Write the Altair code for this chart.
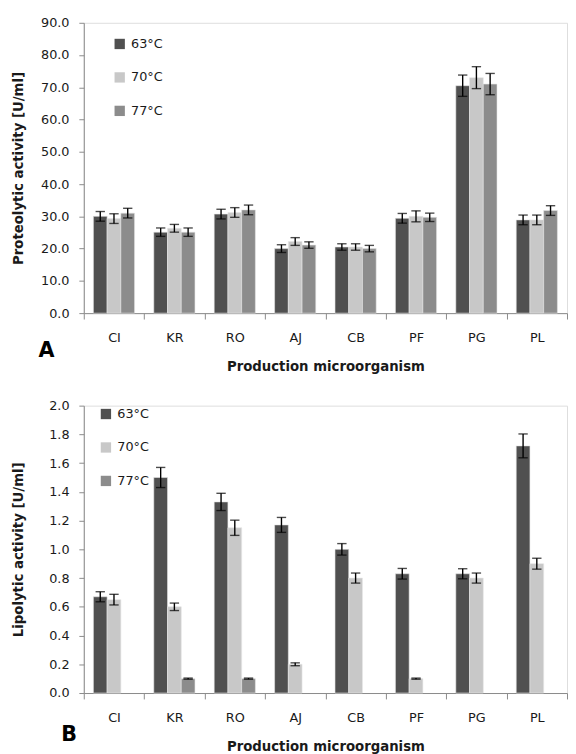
import altair as alt
import pandas as pd

categories = ["CI", "KR", "RO", "AJ", "CB", "PF", "PG", "PL"]
series = ["63°C", "70°C", "77°C"]
colors = ["#505050", "#c8c8c8", "#8c8c8c"]

# Panel A: proteolytic activity [U/ml]
prot_63 = [30.0, 25.1, 30.7, 20.0, 20.5, 29.4, 70.5, 28.9]
prot_63_err = [1.5, 1.3, 1.5, 1.2, 1.0, 1.5, 3.3, 1.5]
prot_70 = [29.3, 26.3, 31.2, 22.2, 20.5, 30.0, 73.0, 28.9]
prot_70_err = [1.5, 1.2, 1.5, 1.2, 1.0, 1.7, 3.4, 1.5]
prot_77 = [31.0, 25.1, 32.0, 21.1, 20.0, 29.7, 71.0, 31.8]
prot_77_err = [1.5, 1.3, 1.5, 1.0, 1.0, 1.3, 3.3, 1.5]

# Panel B: lipolytic activity [U/ml]
lip_63 = [0.67, 1.50, 1.33, 1.17, 1.00, 0.83, 0.83, 1.72]
lip_63_err = [0.035, 0.07, 0.06, 0.052, 0.04, 0.037, 0.035, 0.083]
lip_70 = [0.65, 0.60, 1.15, 0.20, 0.80, 0.10, 0.80, 0.90]
lip_70_err = [0.037, 0.026, 0.053, 0.01, 0.035, 0.004, 0.035, 0.038]
lip_77 = [None, 0.10, 0.10, None, None, None, None, None]
lip_77_err = [None, 0.004, 0.004, None, None, None, None, None]


def long_df(vals, errs):
    rows = []
    for s, v_list, e_list in zip(series, vals, errs):
        for c, v, e in zip(categories, v_list, e_list):
            if v is None:
                continue
            rows.append({"category": c, "series": s, "value": v,
                         "lo": v - e, "hi": v + e})
    return pd.DataFrame(rows)


df_a = long_df([prot_63, prot_70, prot_77], [prot_63_err, prot_70_err, prot_77_err])
df_b = long_df([lip_63, lip_70, lip_77], [lip_63_err, lip_70_err, lip_77_err])

FONT = "DejaVu Sans"
AXIS_GRAY = "#8a8a8a"
TEXT = "#1a1a1a"


def panel(df, ymax, yvalues, ytitle, letter, height, lx, ly, letter_x, letter_y):
    xaxis = alt.Axis(
        title="Production microorganism", labelAngle=0, tickBand="extent",
        tickSize=6, labelPadding=13, titlePadding=15,
        labelFontSize=13, titleFontSize=13.5, titleFontWeight="bold",
        labelFont=FONT, titleFont=FONT, labelColor=TEXT, titleColor=TEXT,
        domainColor=AXIS_GRAY, tickColor=AXIS_GRAY, labelOverlap=False,
    )
    xscale = alt.Scale(paddingInner=0, paddingOuter=0)
    xenc = alt.X("category:N", sort=categories, scale=xscale, axis=xaxis)
    xoff = alt.XOffset("series:N", sort=series,
                       scale=alt.Scale(domain=series, paddingInner=0, paddingOuter=0.7))
    yscale = alt.Scale(domain=[0, ymax], nice=False, zero=True)
    yaxis = alt.Axis(
        title=ytitle, values=yvalues, format=".1f", grid=False,
        tickSize=5, labelPadding=10, titleX=-66, titleBaseline="middle",
        labelFontSize=13, titleFontSize=13.5, titleFontWeight="bold",
        labelFont=FONT, titleFont=FONT, labelColor=TEXT, titleColor=TEXT,
        domainColor=AXIS_GRAY, tickColor=AXIS_GRAY, labelOverlap=False,
        labelBound=False,
    )
    color = alt.Color(
        "series:N", sort=series,
        scale=alt.Scale(domain=series, range=colors),
        legend=alt.Legend(
            title=None, orient="none", legendX=lx, legendY=ly,
            symbolType="square", symbolSize=110, symbolStrokeWidth=0,
            labelFontSize=13, labelFont=FONT, labelColor=TEXT,
            rowPadding=20, labelOffset=5,
        ),
    )
    base = alt.Chart(df)
    bars = base.mark_bar(stroke="#e6e6e6", strokeWidth=0.6).encode(
        x=xenc, xOffset=xoff,
        y=alt.Y("value:Q", scale=yscale, axis=yaxis), color=color
    )
    rules = base.mark_rule(color="black", strokeWidth=1.4).encode(
        x=xenc, xOffset=xoff,
        y=alt.Y("lo:Q", scale=yscale, axis=yaxis), y2="hi:Q"
    )
    caps_lo = base.mark_tick(color="black", size=9.5, thickness=1.4, orient="horizontal").encode(
        x=xenc, xOffset=xoff,
        y=alt.Y("lo:Q", scale=yscale, axis=yaxis)
    )
    caps_hi = base.mark_tick(color="black", size=9.5, thickness=1.4, orient="horizontal").encode(
        x=xenc, xOffset=xoff,
        y=alt.Y("hi:Q", scale=yscale, axis=yaxis)
    )
    lab = alt.Chart(pd.DataFrame({"t": [letter]})).mark_text(
        font=FONT, fontSize=21, fontWeight="bold", color="black",
        align="left", baseline="middle"
    ).encode(text="t:N", x=alt.value(letter_x), y=alt.value(letter_y))
    return alt.layer(bars, rules, caps_lo, caps_hi, lab).properties(
        width=491, height=height
    )


prot_ticks = [0, 10, 20, 30, 40, 50, 60, 70, 80, 90]
lip_ticks = [0.0, 0.2, 0.4, 0.6, 0.8, 1.0, 1.2, 1.4, 1.6, 1.8, 2.0]

pa = panel(df_a, 90, prot_ticks, "Proteolytic activity [U/ml]", "A",
           295, 30, 15, -46, 295 + 39)
pb = panel(df_b, 2.0, lip_ticks, "Lipolytic activity [U/ml]", "B",
           292, 16, 2, -23, 292 + 43)

chart = alt.vconcat(pa, pb, spacing=26).resolve_scale(
    color="independent"
).resolve_legend(color="independent").properties(
    padding={"left": 3, "top": 2, "right": 0, "bottom": 0}
).configure_view(stroke=None).configure(background="white")

chart.save("out.html", embed_options={"renderer": "svg", "actions": False})
